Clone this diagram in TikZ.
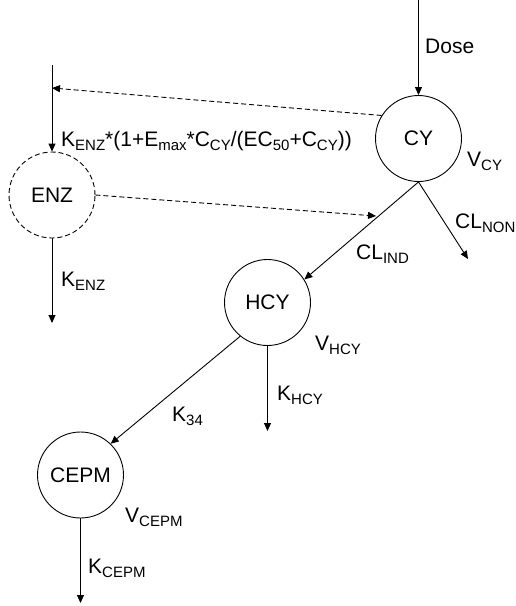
\documentclass[tikz,border=0pt]{standalone}
\usepackage{fontspec}
\setmainfont{Liberation Sans}
\usetikzlibrary{arrows.meta}
\newcommand\lo[1]{\raisebox{-4.5pt}{\fontsize{15pt}{15pt}\selectfont #1}}
\begin{document}
\begin{tikzpicture}[x=1pt,y=-1pt,
  every node/.style={font=\fontsize{21pt}{24pt}\selectfont},
  comp/.style={circle,draw,line width=0.9pt,minimum size=86pt,inner sep=0pt},
  lbl/.style={anchor=base west,inner sep=0pt},
  flow/.style={line width=0.9pt,-{Triangle[length=8pt,width=7pt]}},
  effect/.style={flow,dash pattern=on 5pt off 3pt}]
\useasboundingbox (0,0) rectangle (516,606);
\node[comp] (cy) at (418.5,138.5) {CY};
\node[comp,dash pattern=on 5pt off 3pt] (enz) at (52,195) {ENZ};
\node[comp] (hcy) at (267.5,302.5) {HCY};
\node[comp] (cepm) at (80.5,475) {CEPM};
\coordinate (dosein) at (418.5,0);
\coordinate (enzin) at (52,65);
\coordinate (enzhit) at (52,88);
\coordinate (enzout) at (52,323);
\coordinate (indhit) at (376,216);
\coordinate (nonout) at (468,259);
\coordinate (hcyout) at (267.5,431);
\coordinate (cepmout) at (80.5,603);
\draw[flow] (dosein) -- (cy.north);
\draw[flow] (enzin) -- (enz.north);
\draw[effect] (cy.148) -- (enzhit);
\draw[effect] (enz.east) -- (indhit);
\draw[flow] (enz.south) -- (enzout);
\draw[flow] (cy.south) -- (hcy.32);
\draw[flow] (cy.south) -- (nonout);
\draw[flow] (hcy.south) -- (hcyout);
\draw[flow] (hcy.231) -- (cepm.46);
\draw[flow] (cepm.south) -- (cepmout);
\node[lbl] (tdose) at (425,53) {Dose};
\node[lbl] (tkin) at (61,146) {K\lo{ENZ}*(1+E\lo{max}*C\lo{CY}/(EC\lo{50}+C\lo{CY}))};
\node[lbl] (tvcy) at (467,166) {V\lo{CY}};
\node[lbl] (tnon) at (455,228) {CL\lo{NON}};
\node[lbl] (tind) at (356,259) {CL\lo{IND}};
\node[lbl] (tkenz) at (61,286) {K\lo{ENZ}};
\node[lbl] (tvhcy) at (315,350) {V\lo{HCY}};
\node[lbl] (tkhcy) at (277,400) {K\lo{HCY}};
\node[lbl] (tk34) at (172,421) {K\lo{34}};
\node[lbl] (tvcepm) at (125,522) {V\lo{CEPM}};
\node[lbl] (tkcepm) at (88,573) {K\lo{CEPM}};
\end{tikzpicture}
\end{document}
